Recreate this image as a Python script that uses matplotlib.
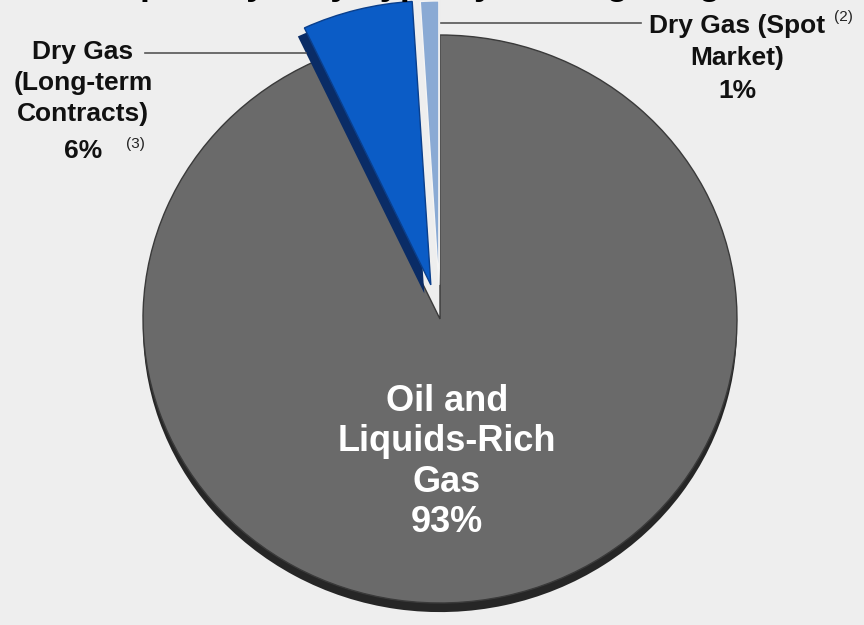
import matplotlib
matplotlib.use("Agg")
import matplotlib.pyplot as plt

# slice data, clockwise from 12 o'clock
categories = ["Oil and\nLiquids-Rich\nGas", "Dry Gas\n(Long-term\nContracts)", "Dry Gas (Spot\nMarket)"]
shares = [93, 6, 1]
notes = ["", "(3)", "(2)"]
face_colors = ["#6a6a6a", "#0b5cc6", "#8aaad4"]
side_colors = ["#262626", "#0a2c66", "#e8e8e8"]
side_shift = [(0, -0.032), (-0.022, -0.03), (0.004, 0)]
explode = [0, 0.124, 0.12]

W, H = 864, 625
fig = plt.figure(figsize=(W / 100, H / 100), dpi=100)
fig.patch.set_facecolor("#eeeeee")
ax = fig.add_axes([0, 0, 1, 1])
ax.set_facecolor("#eeeeee")

# pixel -> figure fraction helpers
def fx(px):
    return px / W

def fy(py):
    return 1 - py / H

# 3d rim: each slice drawn again underneath, pushed a little down
for i in range(len(shares)):
    w, _ = ax.pie(shares, startangle=90, counterclock=False, explode=explode,
                  colors=side_colors, center=side_shift[i],
                  wedgeprops=dict(linewidth=0))
    for j, wedge in enumerate(w):
        wedge.set_visible(j == i)
        wedge.set_zorder(2 * i)
    w, _ = ax.pie(shares, startangle=90, counterclock=False, explode=explode,
                  colors=face_colors,
                  wedgeprops=dict(linewidth=1.0))
    for j, wedge in enumerate(w):
        wedge.set_visible(j == i)
        wedge.set_zorder(2 * i + 1)
        if j == 0:
            wedge.set_edgecolor("#3a3a3a")
        elif j == 1:
            wedge.set_edgecolor("#0a3f8c")
        else:
            wedge.set_edgecolor("#f4f4f4")

# slightly flattened pie filling the frame
ax.set_aspect("auto")
ax.set_xlim(-440 / 297, (W - 440) / 297)
ax.set_ylim((319 - H) / 284, 319 / 284)
ax.axis("off")

# title (runs off the top edge)
fig.text(fx(440), fy(-6), "Capital by Play Type by Drilling Program", ha="center",
         va="baseline", fontsize=26, fontweight="bold", color="black",
         family="Liberation Sans")

lab = dict(family="Liberation Sans", fontweight="bold", ha="center", va="center")

# centre label on the big slice
fig.text(fx(447), fy(462), f"{categories[0]}\n{shares[0]}%", color="white",
         fontsize=26, linespacing=1.2, **lab)

# long-term contracts label
fig.text(fx(83), fy(83), categories[1], color="#111111", fontsize=19,
         linespacing=1.38, **lab)
fig.text(fx(83), fy(151), f"{shares[1]}%", color="#111111", fontsize=19, **lab)
fig.text(fx(126), fy(144), notes[1], color="#222222", fontsize=11,
         family="Liberation Sans", ha="left", va="center")
ax.plot([fx(145), fx(306)], [fy(53), fy(53)], color="#555555", lw=1.2,
        transform=fig.transFigure, zorder=10)

# spot market label
fig.text(fx(737), fy(42), categories[2], color="#111111", fontsize=19,
         linespacing=1.38, **lab)
fig.text(fx(737), fy(91), f"{shares[2]}%", color="#111111", fontsize=19, **lab)
fig.text(fx(834), fy(17), notes[2], color="#222222", fontsize=11,
         family="Liberation Sans", ha="left", va="center")
ax.plot([fx(441), fx(641)], [fy(23), fy(23)], color="#555555", lw=1.2,
        transform=fig.transFigure, zorder=10)

fig.savefig("out.png", dpi=100, facecolor=fig.get_facecolor())
